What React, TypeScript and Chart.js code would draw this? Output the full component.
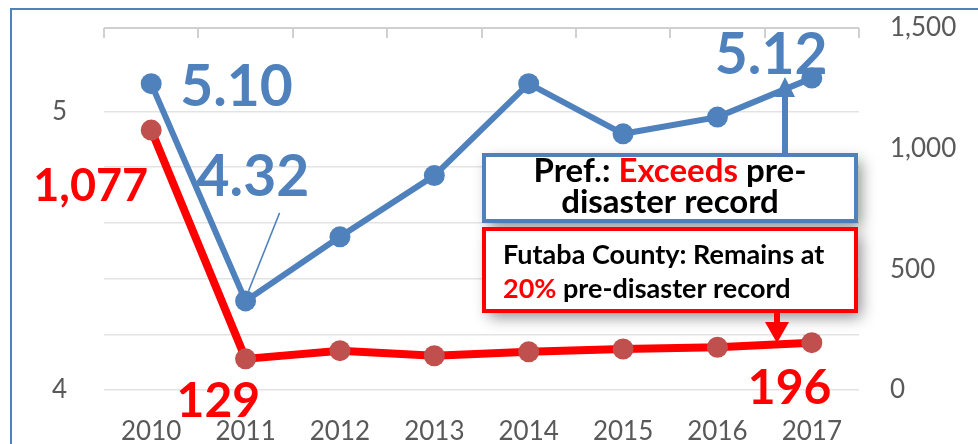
import React, { useEffect, useRef } from 'react';
import { Chart, registerables } from 'chart.js';

Chart.register(...registerables);

const years = ['2010', '2011', '2012', '2013', '2014', '2015', '2016', '2017'];
const prefValues = [5.1, 4.32, 4.55, 4.77, 5.1, 4.92, 4.98, 5.12];
const futabaValues = [1077, 129, 163, 142, 158, 170, 177, 196];
const leftMin = 4;
const leftMax = 5.3;
const leftStep = 0.2;
const rightMin = 0;
const rightMax = 1500;
const rightStep = 500;

const prefLabels = [
  { index: 0, text: '5.10', dx: 29, dy: 22, align: 'left' },
  { index: 1, text: '4.32', dx: -49, dy: -105, align: 'left' },
  { index: 7, text: '5.12', dx: -97, dy: -4, align: 'left' },
];
const futabaLabels = [
  { index: 0, text: '1,077', dx: -3, dy: 71, align: 'right' },
  { index: 1, text: '129', dx: -69, dy: 58, align: 'left' },
  { index: 7, text: '196', dx: -64, dy: 61, align: 'left' },
];

const BLUE = '#4F81BD';
const RED = '#FF0000';
const FONT = 'Lato, "Open Sans", sans-serif';

const zeroPad = (s: any) => {
  s.paddingTop = 0;
  s.paddingBottom = 0;
  s.paddingLeft = 0;
  s.paddingRight = 0;
};

const annotationPlugin = {
  id: 'annot',
  beforeDraw(chart: any) {
    const ctx = chart.ctx;
    ctx.save();
    ctx.fillStyle = '#FFFFFF';
    ctx.fillRect(0, 0, chart.width, chart.height);
    ctx.strokeStyle = BLUE;
    ctx.lineWidth = 2;
    ctx.strokeRect(11, 9, chart.width + 20, chart.height + 20);
    ctx.restore();
  },
  afterDatasetsDraw(chart: any) {
    const ctx = chart.ctx;
    const area = chart.chartArea;
    const xs = chart.scales.x;
    ctx.save();
    // top border with category tick marks
    ctx.strokeStyle = '#D0D0D0';
    ctx.lineWidth = 2;
    ctx.beginPath();
    ctx.moveTo(area.left, area.top);
    ctx.lineTo(area.right, area.top);
    const step = xs.getPixelForValue(1) - xs.getPixelForValue(0);
    for (let i = 0; i <= years.length; i++) {
      const px = Math.round(xs.getPixelForValue(0) - step / 2 + i * step);
      ctx.moveTo(px, area.top);
      ctx.lineTo(px, area.top + 10);
    }
    ctx.stroke();

    const prefMeta = chart.getDatasetMeta(0);
    const futMeta = chart.getDatasetMeta(1);

    // leader line for 4.32
    const p11 = prefMeta.data[1];
    ctx.strokeStyle = BLUE;
    ctx.lineWidth = 1.5;
    ctx.beginPath();
    ctx.moveTo(p11.x + 34, p11.y - 88);
    ctx.lineTo(p11.x + 3, p11.y - 10);
    ctx.stroke();

    ctx.textBaseline = 'alphabetic';
    ctx.font = `bold 57px ${FONT}`;
    ctx.fillStyle = BLUE;
    prefLabels.forEach((l) => {
      const p = prefMeta.data[l.index];
      ctx.textAlign = l.align;
      ctx.fillText(l.text, p.x + l.dx, p.y + l.dy);
    });
    ctx.fillStyle = RED;
    futabaLabels.forEach((l) => {
      const p = futMeta.data[l.index];
      ctx.font = l.index === 0 ? `bold 45px ${FONT}` : `bold 48px ${FONT}`;
      ctx.textAlign = l.align;
      ctx.fillText(l.text, p.x + l.dx, p.y + l.dy);
    });

    // boxes
    const bx = 484;
    const bw = 372;
    const drawBox = (y: number, h: number, color: string) => {
      ctx.save();
      ctx.shadowColor = 'rgba(0,0,0,0.45)';
      ctx.shadowBlur = 14;
      ctx.shadowOffsetX = 5;
      ctx.shadowOffsetY = 6;
      ctx.fillStyle = '#FFFFFF';
      ctx.fillRect(bx, y, bw, h);
      ctx.restore();
      ctx.strokeStyle = color;
      ctx.lineWidth = 4;
      ctx.strokeRect(bx, y, bw, h);
    };
    drawBox(155, 66, BLUE);
    drawBox(229, 82, RED);

    const drawRuns = (runs: [string, string][], x: number, y: number, center: boolean) => {
      let total = 0;
      runs.forEach(([t]) => (total += ctx.measureText(t).width));
      let cx = center ? x - total / 2 : x;
      ctx.textAlign = 'left';
      runs.forEach(([t, c]) => {
        ctx.fillStyle = c;
        ctx.fillText(t, cx, y);
        cx += ctx.measureText(t).width;
      });
    };
    ctx.font = `bold 33px ${FONT}`;
    drawRuns([['Pref.: ', '#000'], ['Exceeds', RED], [' pre-', '#000']], bx + bw / 2, 182, true);
    drawRuns([['disaster record', '#000']], bx + bw / 2, 213, true);
    ctx.font = `bold 27px ${FONT}`;
    drawRuns([['Futaba County: Remains at', '#000']], 503, 264, false);
    drawRuns([['20%', RED], [' pre-disaster record', '#000']], 503, 298, false);

    // arrows
    const arrow = (x: number, y0: number, y1: number, head: number, hw: number, color: string, lw: number) => {
      const dir = y1 > y0 ? 1 : -1;
      ctx.strokeStyle = color;
      ctx.fillStyle = color;
      ctx.lineWidth = lw;
      ctx.beginPath();
      ctx.moveTo(x, y0);
      ctx.lineTo(x, y1 - dir * head);
      ctx.stroke();
      ctx.beginPath();
      ctx.moveTo(x, y1);
      ctx.lineTo(x - hw, y1 - dir * head);
      ctx.lineTo(x + hw, y1 - dir * head);
      ctx.closePath();
      ctx.fill();
    };
    arrow(785, 153, 77, 20, 10, BLUE, 6);
    arrow(777, 313, 343, 21, 12, RED, 6);
    ctx.restore();
  },
};

export default function App() {
  const ref = useRef<HTMLCanvasElement>(null);
  useEffect(() => {
    const chart = new Chart(ref.current as HTMLCanvasElement, {
      type: 'line',
      data: {
        labels: years,
        datasets: [
          {
            data: prefValues,
            yAxisID: 'y',
            borderColor: BLUE,
            backgroundColor: BLUE,
            borderWidth: 6,
            pointRadius: 10.5,
            pointBackgroundColor: BLUE,
            pointBorderWidth: 0,
          },
          {
            data: futabaValues,
            yAxisID: 'y1',
            borderColor: RED,
            backgroundColor: '#C0504D',
            borderWidth: 8,
            pointRadius: 10.5,
            pointBackgroundColor: '#C0504D',
            pointBorderWidth: 0,
          },
        ],
      },
      options: {
        responsive: false,
        animation: false,
        layout: { padding: { top: 28, left: 0, right: 0, bottom: 0 } },
        plugins: { legend: { display: false }, tooltip: { enabled: false }, title: { display: false } },
        scales: {
          x: {
            offset: true,
            grid: { display: false, drawTicks: false },
            border: { display: false },
            ticks: { color: '#595959', font: { family: FONT, size: 26 }, padding: 26, maxRotation: 0 },
            afterFit: (s: any) => {
              s.height = 54;
              zeroPad(s);
            },
          },
          y: {
            position: 'left',
            min: leftMin,
            max: leftMax,
            grid: {
              drawTicks: false,
              color: (c: any) => (Math.abs(c.tick.value - leftMax) < 1e-6 ? 'rgba(0,0,0,0)' : '#E3E3E3'),
              lineWidth: 1.5,
            },
            border: { display: false },
            ticks: {
              stepSize: leftStep,
              padding: 37,
              color: '#595959',
              font: { family: FONT, size: 26 },
              callback: (v: any) => (Math.abs(v - Math.round(v)) < 1e-6 ? String(Math.round(v)) : ''),
            },
            afterFit: (s: any) => {
              s.width = 104;
              zeroPad(s);
            },
          },
          y1: {
            position: 'right',
            min: rightMin,
            max: rightMax,
            grid: { display: false, drawOnChartArea: false, drawTicks: false },
            border: { display: false },
            ticks: {
              stepSize: rightStep,
              padding: 31,
              color: '#595959',
              font: { family: FONT, size: 26 },
              callback: (v: any) => Number(v).toLocaleString('en-US'),
            },
            afterFit: (s: any) => {
              s.width = 119;
              zeroPad(s);
            },
          },
        },
      },
      plugins: [annotationPlugin],
    } as any);
    return () => chart.destroy();
  }, []);
  return (
    <div style={{ position: 'fixed', left: 0, top: 0, width: 978, height: 444, background: '#fff' }}>
      <canvas ref={ref} width={978} height={444} style={{ display: 'block' }} />
    </div>
  );
}
